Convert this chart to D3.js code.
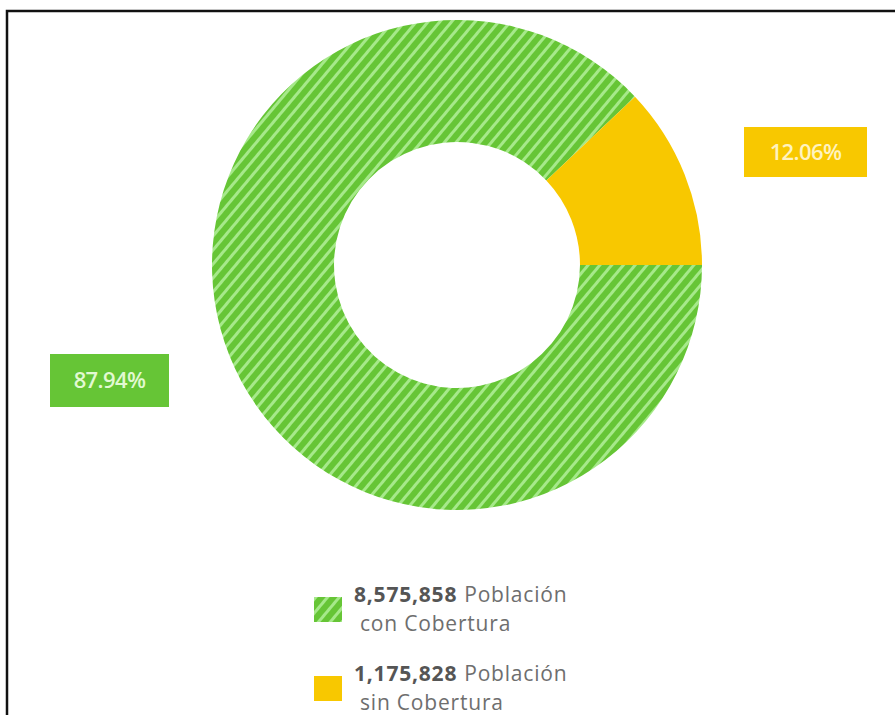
<!DOCTYPE html>
<html>
<head>
<meta charset="utf-8">
<script src="https://cdn.jsdelivr.net/npm/d3@7"></script>
<style>
  body { margin: 0; background: #fff; }
  svg { display: block; font-family: "Open Sans", "Noto Sans", sans-serif; }
</style>
</head>
<body>
<svg width="895" height="715"></svg>
<script>
const categories = ["Población con Cobertura", "Población sin Cobertura"]
const values = [8575858, 1175828]
const percentLabels = ["87.94%", "12.06%"]
const legendLines = [["Población", "con Cobertura"], ["Población", "sin Cobertura"]]

const width = 895, height = 715
const svg = d3.select("svg")

// frame (top and left edges only are visible)
svg.append("path")
    .attr("d", "M7,715 V11 H895")
    .attr("fill", "none")
    .attr("stroke", "#111")
    .attr("stroke-width", 2.5)

// hatch pattern for the green slice
const defs = svg.append("defs")
const pat = defs.append("pattern")
    .attr("id", "hatch")
    .attr("patternUnits", "userSpaceOnUse")
    .attr("width", 9).attr("height", 9)
    .attr("patternTransform", "rotate(40)")
pat.append("rect").attr("width", 9).attr("height", 9).attr("fill", "#66c536")
pat.append("rect").attr("x", 0).attr("width", 3).attr("height", 9).attr("fill", "#a6e98a")

const fills = ["url(#hatch)", "#f8c800"]
const boxColors = ["#66c536", "#f8c800"]

const cx = 457, cy = 265
const outerR = 245, innerR = 123

const pie = d3.pie().sort(null)
    .startAngle(Math.PI / 2)
    .endAngle(Math.PI / 2 + 2 * Math.PI)
const arcs = pie(values)
const arc = d3.arc().innerRadius(innerR).outerRadius(outerR)

const g = svg.append("g").attr("transform", `translate(${cx},${cy})`)
g.selectAll("path")
    .data(arcs)
    .join("path")
    .attr("d", arc)
    .attr("fill", (d, i) => fills[i])

// percent label boxes
const labelPos = [[109.5, 380.5], [805.5, 152]]
const boxSize = [[119, 53], [123, 50]]
const lab = svg.append("g").selectAll("g")
    .data(arcs)
    .join("g")
    .attr("transform", (d, i) => `translate(${labelPos[i][0]},${labelPos[i][1]})`)
lab.append("rect")
    .attr("x", (d, i) => -boxSize[i][0] / 2)
    .attr("y", (d, i) => -boxSize[i][1] / 2)
    .attr("width", (d, i) => boxSize[i][0])
    .attr("height", (d, i) => boxSize[i][1])
    .attr("fill", (d, i) => boxColors[i])
lab.append("text")
    .attr("text-anchor", "middle")
    .attr("dy", "0.36em")
    .attr("fill", (d, i) => i === 0 ? "#e2f9d2" : "#fff3c0")
    .style("font-size", "22px")
    .style("font-weight", 600)
    .style("letter-spacing", "-0.6px")
    .text((d, i) => percentLabels[i])

// legend
const fmt = d3.format(",")
const legend = svg.append("g").selectAll("g")
    .data(values)
    .join("g")
    .attr("transform", (d, i) => `translate(314,${597 + i * 79})`)
legend.append("rect")
    .attr("width", 28).attr("height", 25)
    .attr("fill", (d, i) => fills[i])
const line1 = legend.append("text")
    .attr("x", 40).attr("y", 5)
    .attr("fill", "#6e6e6e")
    .style("font-size", "21px")
    .style("letter-spacing", "0.8px")
line1.append("tspan")
    .style("font-weight", 700)
    .attr("fill", "#555")
    .text(d => fmt(d))
line1.append("tspan")
    .attr("dx", 7)
    .text((d, i) => legendLines[i][0])
legend.append("text")
    .attr("x", 46).attr("y", 34)
    .attr("fill", "#6e6e6e")
    .style("font-size", "21px")
    .style("letter-spacing", "0.8px")
    .text((d, i) => legendLines[i][1])
</script>
</body>
</html>
